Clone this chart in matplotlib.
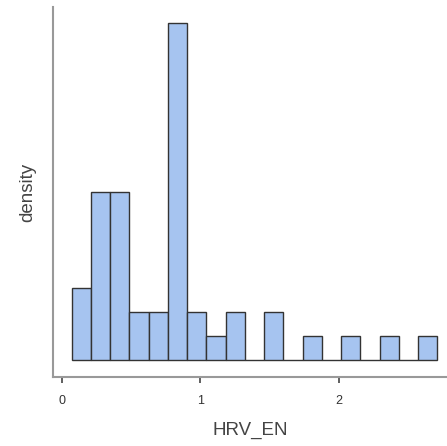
import numpy as np
import matplotlib
matplotlib.use("Agg")
from matplotlib import pyplot as plt

# histogram of HRV_EN: bin edges and counts
bin_start = 0.070
bin_width = 0.139
counts = [3, 7, 7, 2, 2, 14, 2, 1, 2, 0, 2, 0, 1, 0, 1, 0, 1, 0, 1]
x_ticks = [0, 1, 2]

n = sum(counts)
edges = bin_start + bin_width * np.arange(len(counts) + 1)
density = np.array(counts) / (n * bin_width)

plt.rcParams['font.family'] = ['Liberation Sans', 'DejaVu Sans']

fig = plt.figure(figsize=(4.47, 4.46), dpi=100)
ax = fig.add_axes([0.119, 0.155, 0.881, 0.829])

ax.hist(edges[:-1], bins=edges, weights=density,
        color='#a6c4f0', edgecolor='#333333', linewidth=1.0)

scale = 1 / (n * bin_width)
ax.set_ylim(-0.69 * scale, 14.65 * scale)
ax.set_xlim(-0.063, 2.78)

ax.set_xticks(x_ticks)
ax.set_xticklabels([str(t) for t in x_ticks])
ax.set_yticks([])
ax.tick_params(axis='x', length=4, width=1.2, color='#444444',
               labelsize=9, labelcolor='#333333', pad=9)

for s in ['top', 'right']:
    ax.spines[s].set_visible(False)
for s in ['left', 'bottom']:
    ax.spines[s].set_color('#999999')
    ax.spines[s].set_linewidth(1.5)

ax.set_xlabel('HRV_EN', fontsize=13.5, color='#444444', labelpad=11)
ax.set_ylabel('density', fontsize=13.5, color='#444444', labelpad=12)

fig.savefig('out.png', dpi=100)
